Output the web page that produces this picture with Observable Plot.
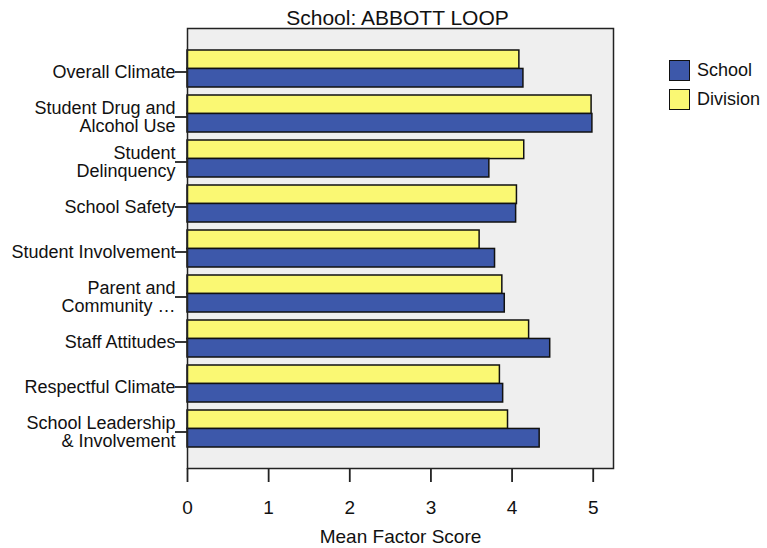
<!DOCTYPE html>
<html>
<head>
<meta charset="utf-8">
<script src="https://cdn.jsdelivr.net/npm/d3@7"></script>
<script src="https://cdn.jsdelivr.net/npm/@observablehq/plot@0.6"></script>
<style>
  html, body { margin: 0; padding: 0; background: #fff; }
  #wrap { position: relative; width: 767px; height: 548px; font-family: "Liberation Sans", Arial, sans-serif; }
  #legend { position: absolute; left: 669px; top: 59px; font-size: 18px; color: #111; }
  .row { display: flex; align-items: center; height: 22px; margin-bottom: 7px; }
  .sw { width: 19px; height: 19px; border: 1.5px solid #111; margin-right: 7px; }
</style>
</head>
<body>
<div id="wrap"></div>
<script>
const title = "School: ABBOTT LOOP";
const categories = [
  "Overall Climate",
  "Student Drug and Alcohol Use",
  "Student Delinquency",
  "School Safety",
  "Student Involvement",
  "Parent and Community …",
  "Staff Attitudes",
  "Respectful Climate",
  "School Leadership & Involvement"
];
const categoryLabels = [
  "Overall Climate",
  "Student Drug and\nAlcohol Use",
  "Student\nDelinquency",
  "School Safety",
  "Student Involvement",
  "Parent and\nCommunity …",
  "Staff Attitudes",
  "Respectful Climate",
  "School Leadership\n& Involvement"
];
const schoolValues   = [4.14, 4.99, 3.72, 4.05, 3.79, 3.91, 4.47, 3.89, 4.34];
const divisionValues = [4.09, 4.98, 4.15, 4.06, 3.60, 3.88, 4.21, 3.85, 3.95];
const seriesNames = ["School", "Division"];
const seriesColors = ["#3d58aa", "#faf873"];
const xTicks = [0, 1, 2, 3, 4, 5];
const xLabel = "Mean Factor Score";

const labelOf = new Map(categories.map((c, i) => [c, categoryLabels[i]]));
const schoolRows = categories.map((c, i) => ({category: c, series: "School", value: schoolValues[i]}));
const divisionRows = categories.map((c, i) => ({category: c, series: "Division", value: divisionValues[i]}));

const half = 18.45;

const chart = Plot.plot({
  width: 767,
  height: 548,
  marginLeft: 187,
  marginRight: 154,
  marginTop: 28,
  marginBottom: 80,
  style: {fontFamily: "'Liberation Sans', Arial, sans-serif", fontSize: "18px", color: "#111", background: "transparent", overflow: "visible"},
  x: {domain: [0, 5.25], nice: false},
  y: {domain: categories, insetTop: 18, insetBottom: 17, paddingInner: 0.18, paddingOuter: 0.09},
  color: {domain: seriesNames, range: seriesColors},
  marks: [
    Plot.frame({fill: "#efefef", stroke: null}),
    Plot.barX(divisionRows, {x: "value", y: "category", fill: "series", stroke: "#111", strokeWidth: 1.5, insetBottom: half}),
    Plot.barX(schoolRows, {x: "value", y: "category", fill: "series", stroke: "#111", strokeWidth: 1.5, insetTop: half}),
    Plot.frame({stroke: "#222", strokeWidth: 1.5}),
    Plot.axisX({ticks: xTicks, tickFormat: d3.format("d"), tickSize: 14, tickPadding: 18, fontSize: 19, strokeWidth: 1.8, stroke: "#222",
      label: xLabel, labelAnchor: "center", labelArrow: "none", labelOffset: 74}),
    Plot.axisY({tickSize: 12, tickPadding: 0, strokeWidth: 1.8, stroke: "#222", fontSize: 18, dy: 3,
      tickFormat: d => labelOf.get(d), label: null, lineHeight: 1.0}),
    Plot.text([title], {frameAnchor: "top", lineAnchor: "bottom", dy: -4, dx: -3, fontSize: 21, fill: "#111"})
  ]
});

const wrap = document.getElementById("wrap");
wrap.appendChild(chart);
const legend = document.createElement("div");
legend.id = "legend";
seriesNames.forEach((s, i) => {
  const row = document.createElement("div");
  row.className = "row";
  const sw = document.createElement("div");
  sw.className = "sw";
  sw.style.background = seriesColors[i];
  const t = document.createElement("span");
  t.textContent = s;
  row.appendChild(sw);
  row.appendChild(t);
  legend.appendChild(row);
});
wrap.appendChild(legend);
chart.style.position = "absolute";
chart.style.left = "0";
chart.style.top = "0";
</script>
</body>
</html>
